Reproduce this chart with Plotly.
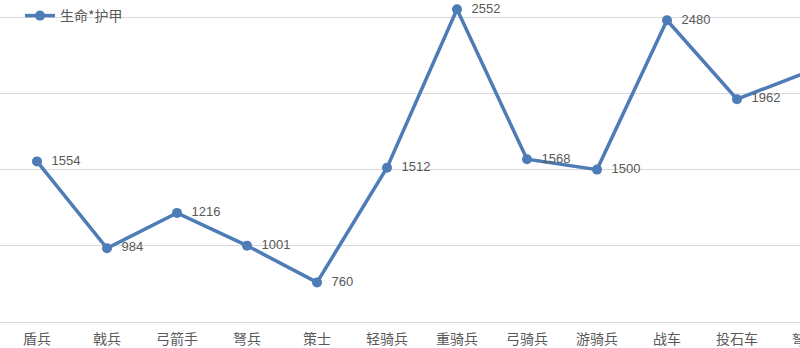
import plotly.graph_objects as go

categories = ["盾兵", "戟兵", "弓箭手", "弩兵", "策士", "轻骑兵", "重骑兵", "弓骑兵", "游骑兵", "战车", "投石车", "弩车"]
values = [1554, 984, 1216, 1001, 760, 1512, 2552, 1568, 1500, 2480, 1962, 2140]
series_name = "生命*护甲"

LINE = "#4E7CB7"
TXT = "#595959"
FONT = "Noto Sans CJK SC, Liberation Sans, sans-serif"

labels = ["  " + str(v) for v in values]
labels[-1] = ""  # off the visible edge in the reference

fig = go.Figure()
fig.add_trace(go.Scatter(
    x=list(range(len(categories))), y=values, name=series_name,
    mode="lines+markers+text",
    line=dict(color=LINE, width=3.5),
    marker=dict(color=LINE, size=10),
    text=labels,
    textposition="middle right",
    textfont=dict(size=13, color=TXT, family="Liberation Sans, sans-serif"),
    cliponaxis=False,
))

fig.update_layout(
    width=800, height=348,
    margin=dict(l=0, r=0, t=0, b=26),
    plot_bgcolor="white", paper_bgcolor="white",
    font=dict(family=FONT, color=TXT, size=14),
    showlegend=True,
    legend=dict(x=0.025, y=1.0, xanchor="left", yanchor="top",
                bgcolor="rgba(0,0,0,0)", font=dict(size=14, color=TXT),
                itemwidth=30),
    xaxis=dict(
        range=[-37/70, -37/70 + 800/70],
        tickmode="array", tickvals=list(range(len(categories))), ticktext=categories,
        showgrid=False, zeroline=False, showline=True, linecolor="#D9D9D9", linewidth=1,
        ticks="", ticklabelstandoff=4, automargin=False,
        tickfont=dict(size=14, color=TXT),
    ),
    yaxis=dict(
        range=[500, 2613], dtick=500, tick0=500,
        showticklabels=False, showgrid=True, gridcolor="#D9D9D9", gridwidth=1,
        zeroline=False, showline=False, ticks="", automargin=False,
    ),
)
fig.add_annotation(
    xref="paper", yref="paper", x=806/800, y=0, yshift=-17,
    text=categories[-1], showarrow=False, xanchor="center", yanchor="middle",
    font=dict(size=14, color=TXT),
)
fig.write_html("out.html")
